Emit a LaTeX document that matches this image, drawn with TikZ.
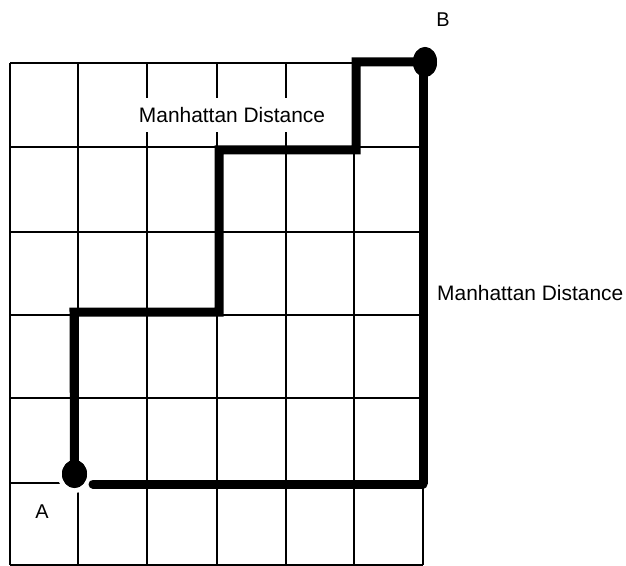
\documentclass[tikz,border=0pt]{standalone}
\usepackage{fontspec}
\setmainfont{Liberation Sans}
\usetikzlibrary{shapes.geometric}
\begin{document}
\begin{tikzpicture}[x=1bp,y=-1bp,
  gridline/.style={line width=1.4bp,black},
  route/.style={line width=9bp,black,line join=miter},
  dotmark/.style={ellipse,fill=black,inner sep=0pt},
  lbl/.style={font=\fontsize{20}{23}\selectfont,inner sep=0pt},
  boxlbl/.style={font=\fontsize{21}{24}\selectfont,fill=white,inner xsep=6bp,minimum height=34bp}]
\useasboundingbox (0,0) rectangle (626,566);
\fill[white] (0,0) rectangle (626,566);
% grid
\foreach \x in {10,78,147,217,286,354,423} \draw[gridline] (\x,63) -- (\x,565);
\foreach \y in {63,147,232,315,398,483,565} \draw[gridline] (10,\y) -- (423,\y);
% white gap around A
\fill[white] (74.5,474) ellipse [x radius=17,y radius=19];
% label on white box
\node[boxlbl] (t1) at (232,115) {Manhattan Distance};
% dots
\node[dotmark,minimum width=25bp,minimum height=28bp] (dA) at (74.5,474) {};
\node[dotmark,minimum width=24bp,minimum height=30bp] (dB) at (425,62) {};
% corners
\coordinate (c1) at (74,312);
\coordinate (c2) at (219,312);
\coordinate (c3) at (219,150);
\coordinate (c4) at (356,150);
\coordinate (c5) at (356,62);
\coordinate (c6) at (423,484);
\coordinate (c7) at (93,484);
% routes
\draw[route] (dA.center) -- (c1) -- (c2) -- (c3) -- (c4) -- (c5) -- (dB.center);
\draw[route] (dB.center) -- (423,62) -- (c6);
\draw[route,line cap=round] (c6) -- (c7);
\node[dotmark,minimum width=25bp,minimum height=28bp] at (dA) {};
\node[dotmark,minimum width=24bp,minimum height=30bp] at (dB) {};
% labels
\node[lbl] (lA) at (42,512) {A};
\node[lbl] (lB) at (443,20) {B};
\node[font=\fontsize{21}{24}\selectfont,inner sep=0pt,anchor=west] (t2) at (437,293) {Manhattan Distance};
\end{tikzpicture}
\end{document}
